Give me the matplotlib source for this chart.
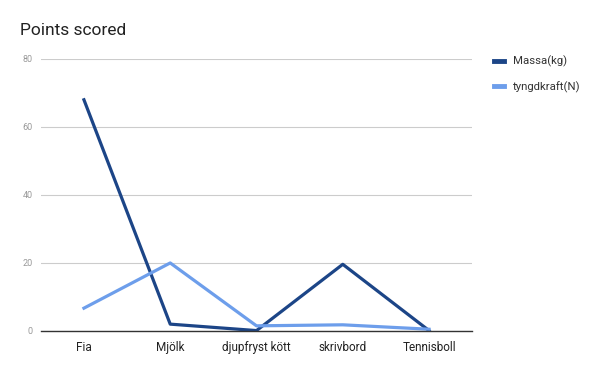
import matplotlib
matplotlib.use("Agg")
import matplotlib.pyplot as plt
from matplotlib.lines import Line2D

plt.rcParams['font.family'] = ['Roboto', 'DejaVu Sans']

categories = ['Fia', 'Mjölk', 'djupfryst kött', 'skrivbord', 'Tennisboll']
massa = [68, 2.0, 0.1, 19.6, 0.1]
tyngdkraft = [6.7, 20, 1.5, 1.8, 0.5]
yticks = [0, 20, 40, 60, 80]

dark = '#1c4587'
light = '#6d9eeb'

fig = plt.figure(figsize=(6, 3.71), dpi=100)
ax = fig.add_axes([0.068, 0.108, 0.719, 0.733])

x = range(len(categories))
ax.plot(x, massa, color=dark, lw=2.3, solid_joinstyle='round')
ax.plot(x, tyngdkraft, color=light, lw=2.3, solid_joinstyle='round')

ax.set_xlim(-0.5, len(categories) - 0.5)
ax.set_ylim(0, 80)
ax.set_yticks(yticks)
ax.set_yticklabels([str(v) for v in yticks], color='#999999', fontsize=6.5)
ax.set_xticks(list(x))
ax.set_xticklabels(categories, fontsize=8.5, color='#222222')
ax.tick_params(axis='both', length=0, pad=6)
ax.tick_params(axis='x', pad=7)
ax.grid(axis='y', color='#cccccc', lw=0.8)
ax.set_axisbelow(True)
for s in ['top', 'right', 'left']:
    ax.spines[s].set_visible(False)
ax.spines['bottom'].set_color('#333333')
ax.spines['bottom'].set_linewidth(1.0)

fig.text(0.033, 0.918, 'Points scored', fontsize=12.5, color='#222222', va='center')

handles = [Line2D([], [], color=dark, lw=3.5), Line2D([], [], color=light, lw=3.5)]
fig.legend(handles, ['Massa(kg)', 'tyngdkraft(N)'], loc='upper left',
           bbox_to_anchor=(0.806, 0.877), frameon=False, fontsize=8.2,
           handlelength=0.85, handletextpad=0.8, labelspacing=1.2,
           labelcolor='#333333')

fig.savefig('out.png', dpi=100, facecolor='white')
